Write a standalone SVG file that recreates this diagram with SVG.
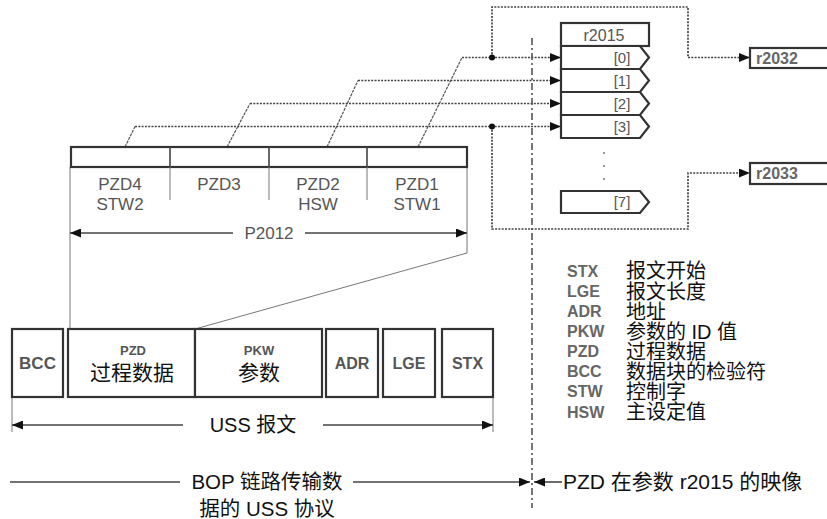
<svg xmlns="http://www.w3.org/2000/svg" width="827" height="519" viewBox="0 0 827 519">
<style>
  .box { fill: #fff; stroke: #333; stroke-width: 2.2; }
  .thin { fill: none; stroke: #777; stroke-width: 1; }
  .dot { fill: none; stroke: #444; stroke-width: 1.7; stroke-dasharray: 2 1.3; }
  .diag { fill: none; stroke: #555; stroke-width: 1.2; stroke-dasharray: 3 1; }
  .dashdot { fill: none; stroke: #555; stroke-width: 1.6; stroke-dasharray: 7 3 2 3; }
  .solid { fill: none; stroke: #444; stroke-width: 1.6; }
  .lbl { font-family: "Liberation Sans", Arial, sans-serif; fill: #555; text-anchor: middle; }
  .glbl { font-family: "Liberation Sans", Arial, sans-serif; fill: #666; font-weight: bold; }
  .cjk { font-family: "Liberation Sans", "Noto Sans CJK SC", sans-serif; fill: #111; }
  .mid { text-anchor: middle; }
</style>
<defs>
  <marker id="ah" markerUnits="userSpaceOnUse" markerWidth="11" markerHeight="9" refX="11" refY="4.5" orient="auto-start-reverse">
    <path d="M0,0 L11,4.5 L0,9 z" fill="#111"/>
  </marker>
</defs>

<!-- connectors -->
<g id="connectors">
  <path class="diag" d="M418,147 L462,57.5"/>
  <path class="diag" d="M327,147 L358,80.5"/>
  <path class="diag" d="M227,147 L250,103.5"/>
  <path class="diag" d="M125,147 L135,126.5"/>
  <path class="dot" d="M462,57.5 H561" marker-end="url(#ah)"/>
  <path class="dot" d="M358,80.5 H561" marker-end="url(#ah)"/>
  <path class="dot" d="M250,103.5 H561" marker-end="url(#ah)"/>
  <path class="dot" d="M135,126.5 H561" marker-end="url(#ah)"/>
  <path class="dot" d="M492,57.5 V7 H688 V57.5 H750" marker-end="url(#ah)"/>
  <path class="dot" d="M492,126.5 V229 H688 V173 H750" marker-end="url(#ah)"/>
  <circle cx="492" cy="57.5" r="3" fill="#111"/>
  <circle cx="492" cy="126.5" r="3" fill="#111"/>
  <path class="dashdot" d="M532,38 V508"/>
  <path class="thin" d="M70,167 V329"/>
  <path class="thin" d="M467,167 V253 L195,329"/>
  <path class="solid" d="M70,233 H233" marker-start="url(#ah)"/>
  <path class="solid" d="M305,233 H467" marker-end="url(#ah)"/>
  <path class="thin" d="M12,397 V432"/>
  <path class="thin" d="M493,397 V432"/>
  <path class="solid" d="M12,425 H183" marker-start="url(#ah)"/>
  <path class="solid" d="M323,425 H493" marker-end="url(#ah)"/>
  <path class="solid" d="M10,482 H180"/>
  <path class="solid" d="M353,482 H530" marker-end="url(#ah)"/>
  <path class="solid" d="M562,482 H534" marker-end="url(#ah)"/>
</g>

<!-- r2015 block -->
<g id="r2015">
  <rect class="box" x="561" y="23" width="88" height="23"/>
  <text class="lbl" x="604" y="41" font-size="16">r2015</text>
  <path class="box" d="M561,46 H640 L649,57.5 L640,69 H561 Z"/>
  <path class="box" d="M561,69 H640 L649,80.5 L640,92 H561 Z"/>
  <path class="box" d="M561,92 H640 L649,103.5 L640,115 H561 Z"/>
  <path class="box" d="M561,115 H640 L649,126.5 L640,138 H561 Z"/>
  <path class="box" d="M561,191 H640 L649,202 L640,213 H561 Z"/>
  <text class="lbl" x="622" y="63" font-size="15">[0]</text>
  <text class="lbl" x="622" y="86" font-size="15">[1]</text>
  <text class="lbl" x="622" y="109" font-size="15">[2]</text>
  <text class="lbl" x="622" y="132" font-size="15">[3]</text>
  <text class="lbl" x="622" y="207" font-size="15">[7]</text>
  <circle cx="604" cy="153" r="1" fill="#777"/>
  <circle cx="604" cy="166" r="1" fill="#777"/>
  <circle cx="604" cy="179" r="1" fill="#777"/>
</g>

<g id="r2032">
  <rect class="box" x="750" y="48" width="90" height="20"/>
  <text class="glbl" x="756" y="63.5" font-size="16">r2032</text>
</g>
<g id="r2033">
  <rect class="box" x="750" y="163" width="90" height="21"/>
  <text class="glbl" x="756" y="179" font-size="16">r2033</text>
</g>

<!-- PZD frame -->
<g id="pzd-frame">
  <rect class="box" x="71" y="147" width="396" height="20"/>
  <path class="solid" d="M170,147 V167 M269,147 V167 M367,147 V167"/>
  <path class="thin" d="M170,167 V200 M269,167 V200 M367,167 V200"/>
  <text class="lbl" x="120" y="190" font-size="17">PZD4</text>
  <text class="lbl" x="120" y="210" font-size="17">STW2</text>
  <text class="lbl" x="219" y="190" font-size="17">PZD3</text>
  <text class="lbl" x="318" y="190" font-size="17">PZD2</text>
  <text class="lbl" x="318" y="210" font-size="17">HSW</text>
  <text class="lbl" x="417" y="190" font-size="17">PZD1</text>
  <text class="lbl" x="417" y="210" font-size="17">STW1</text>
  <text class="lbl" x="269" y="239" font-size="17">P2012</text>
</g>

<!-- USS telegram -->
<g id="uss-telegram">
  <rect class="box" x="12" y="329" width="51" height="68"/>
  <text class="lbl" x="37.5" y="369" font-size="17" font-weight="bold">BCC</text>
  <rect class="box" x="68" y="329" width="127" height="68"/>
  <text class="lbl" x="133" y="355" font-size="13" font-weight="bold" fill="#333">PZD</text>
  <text class="cjk mid" x="132" y="380" font-size="21">过程数据</text>
  <rect class="box" x="195" y="329" width="127" height="68"/>
  <text class="lbl" x="259" y="355" font-size="13" font-weight="bold" fill="#333">PKW</text>
  <text class="cjk mid" x="259" y="380" font-size="21">参数</text>
  <rect class="box" x="326" y="329" width="52" height="68"/>
  <text class="lbl" x="352" y="369" font-size="16" font-weight="bold">ADR</text>
  <rect class="box" x="383" y="329" width="52" height="68"/>
  <text class="lbl" x="409" y="369" font-size="16" font-weight="bold">LGE</text>
  <rect class="box" x="442" y="329" width="51" height="68"/>
  <text class="lbl" x="467.5" y="369" font-size="16" font-weight="bold">STX</text>
  <text class="cjk mid" x="253" y="432" font-size="20">USS 报文</text>
</g>

<!-- legend -->
<g id="legend">
  <text class="glbl" x="567" y="277" font-size="16">STX</text>
  <text class="glbl" x="567" y="297" font-size="16">LGE</text>
  <text class="glbl" x="567" y="317" font-size="16">ADR</text>
  <text class="glbl" x="567" y="337" font-size="16">PKW</text>
  <text class="glbl" x="567" y="357" font-size="16">PZD</text>
  <text class="glbl" x="567" y="377" font-size="16">BCC</text>
  <text class="glbl" x="567" y="397" font-size="16">STW</text>
  <text class="glbl" x="567" y="418" font-size="16">HSW</text>
  <text class="cjk" x="626" y="278" font-size="20">报文开始</text>
  <text class="cjk" x="626" y="299" font-size="20">报文长度</text>
  <text class="cjk" x="626" y="319" font-size="20">地址</text>
  <text class="cjk" x="626" y="339" font-size="20">参数的 ID 值</text>
  <text class="cjk" x="626" y="359" font-size="20">过程数据</text>
  <text class="cjk" x="626" y="379" font-size="20">数据块的检验符</text>
  <text class="cjk" x="626" y="399" font-size="20">控制字</text>
  <text class="cjk" x="626" y="419" font-size="20">主设定值</text>
</g>

<!-- bottom captions -->
<g id="captions">
  <text class="cjk mid" x="267" y="489" font-size="20.5">BOP 链路传输数</text>
  <text class="cjk mid" x="267" y="516" font-size="20.5">据的 USS 协议</text>
  <text class="cjk" x="563" y="489" font-size="21">PZD 在参数 r2015 的映像</text>
</g>
</svg>
